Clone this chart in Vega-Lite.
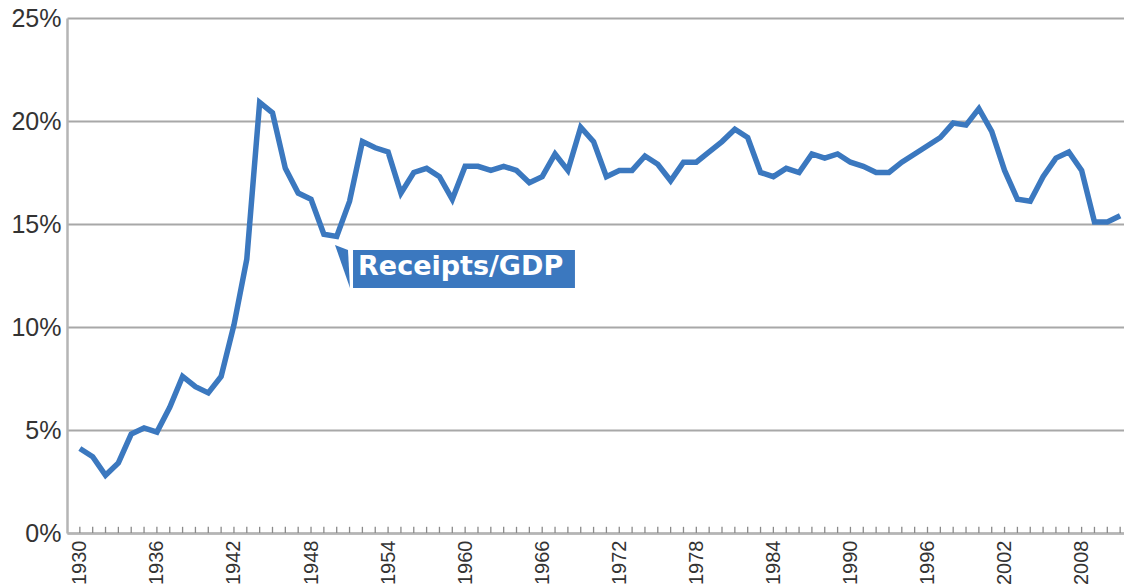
{
  "$schema": "https://vega.github.io/schema/vega-lite/v6.json",
  "width": 1057,
  "height": 515,
  "autosize": {"type": "none"},
  "padding": {"left": 67, "top": 18, "right": 0, "bottom": 55},
  "background": "white",
  "config": {"view": {"stroke": null}},
  "data": {"values": [
    {"year":1930,"r":4.1},{"year":1931,"r":3.7},{"year":1932,"r":2.8},{"year":1933,"r":3.4},{"year":1934,"r":4.8},
    {"year":1935,"r":5.1},{"year":1936,"r":4.9},{"year":1937,"r":6.1},{"year":1938,"r":7.6},{"year":1939,"r":7.1},
    {"year":1940,"r":6.8},{"year":1941,"r":7.6},{"year":1942,"r":10.1},{"year":1943,"r":13.3},{"year":1944,"r":20.9},
    {"year":1945,"r":20.4},{"year":1946,"r":17.7},{"year":1947,"r":16.5},{"year":1948,"r":16.2},{"year":1949,"r":14.5},
    {"year":1950,"r":14.4},{"year":1951,"r":16.1},{"year":1952,"r":19.0},{"year":1953,"r":18.7},{"year":1954,"r":18.5},
    {"year":1955,"r":16.5},{"year":1956,"r":17.5},{"year":1957,"r":17.7},{"year":1958,"r":17.3},{"year":1959,"r":16.2},
    {"year":1960,"r":17.8},{"year":1961,"r":17.8},{"year":1962,"r":17.6},{"year":1963,"r":17.8},{"year":1964,"r":17.6},
    {"year":1965,"r":17.0},{"year":1966,"r":17.3},{"year":1967,"r":18.4},{"year":1968,"r":17.6},{"year":1969,"r":19.7},
    {"year":1970,"r":19.0},{"year":1971,"r":17.3},{"year":1972,"r":17.6},{"year":1973,"r":17.6},{"year":1974,"r":18.3},
    {"year":1975,"r":17.9},{"year":1976,"r":17.1},{"year":1977,"r":18.0},{"year":1978,"r":18.0},{"year":1979,"r":18.5},
    {"year":1980,"r":19.0},{"year":1981,"r":19.6},{"year":1982,"r":19.2},{"year":1983,"r":17.5},{"year":1984,"r":17.3},
    {"year":1985,"r":17.7},{"year":1986,"r":17.5},{"year":1987,"r":18.4},{"year":1988,"r":18.2},{"year":1989,"r":18.4},
    {"year":1990,"r":18.0},{"year":1991,"r":17.8},{"year":1992,"r":17.5},{"year":1993,"r":17.5},{"year":1994,"r":18.0},
    {"year":1995,"r":18.4},{"year":1996,"r":18.8},{"year":1997,"r":19.2},{"year":1998,"r":19.9},{"year":1999,"r":19.8},
    {"year":2000,"r":20.6},{"year":2001,"r":19.5},{"year":2002,"r":17.6},{"year":2003,"r":16.2},{"year":2004,"r":16.1},
    {"year":2005,"r":17.3},{"year":2006,"r":18.2},{"year":2007,"r":18.5},{"year":2008,"r":17.6},{"year":2009,"r":15.1},
    {"year":2010,"r":15.1},{"year":2011,"r":15.4}
  ]},
  "layer": [
    {
      "mark": {"type": "rule", "stroke": "#8a8a8a", "strokeWidth": 1.3},
      "encoding": {
        "x": {"field": "year", "type": "quantitative",
              "scale": {"domain": [1929, 2011.3], "nice": false, "zero": false},
              "axis": {"values": [1930,1936,1942,1948,1954,1960,1966,1972,1978,1984,1990,1996,2002,2008],
                       "labelAngle": -90, "labelFontSize": 20, "labelColor": "#333333", "labelFont": "Liberation Sans",
                       "ticks": false, "grid": false, "labelPadding": 7, "format": "d", "title": null,
                       "domainColor": "#b5b5b5", "domainWidth": 2.5, "labelFlush": false, "labelOverlap": false}},
        "y": {"datum": 0, "type": "quantitative"},
        "y2": {"datum": 0.3}
      }
    },
    {
      "mark": {"type": "line", "stroke": "#3b78bf", "strokeWidth": 5.5, "strokeJoin": "miter", "strokeCap": "butt"},
      "encoding": {
        "x": {"field": "year", "type": "quantitative"},
        "y": {"field": "r", "type": "quantitative",
              "scale": {"domain": [0, 25], "nice": false},
              "axis": {"values": [0,5,10,15,20,25], "labelExpr": "datum.value + '%'", "labelFontSize": 25,
                       "labelColor": "#333333", "labelFont": "Liberation Sans", "ticks": false, "labelPadding": 6,
                       "grid": true, "gridColor": "#a8a8a8", "gridWidth": 2, "title": null,
                       "domainColor": "#b5b5b5", "domainWidth": 2.5, "labelFlush": false}}
      }
    },
    {
      "data": {"values": [{}]},
      "mark": {"type": "point", "shape": "M-0.349,-1L0.256,-0.767L0.349,1Z", "filled": true, "fill": "#3b78bf", "size": 1849, "opacity": 1, "strokeWidth": 0},
      "encoding": {
        "x": {"datum": 1950.45, "type": "quantitative"},
        "y": {"datum": 12.94, "type": "quantitative"}
      }
    },
    {
      "data": {"values": [{}]},
      "mark": {"type": "rect", "fill": "#3b78bf"},
      "encoding": {
        "x": {"datum": 1951.27, "type": "quantitative"},
        "x2": {"datum": 1968.55},
        "y": {"datum": 13.74, "type": "quantitative"},
        "y2": {"datum": 11.89}
      }
    },
    {
      "data": {"values": [{}]},
      "mark": {"type": "text", "text": "Receipts/GDP", "fill": "white", "font": "DejaVu Sans", "fontWeight": "bold", "fontSize": 27, "align": "left", "baseline": "middle"},
      "encoding": {
        "x": {"datum": 1951.66, "type": "quantitative"},
        "y": {"datum": 12.91, "type": "quantitative"}
      }
    }
  ]
}
